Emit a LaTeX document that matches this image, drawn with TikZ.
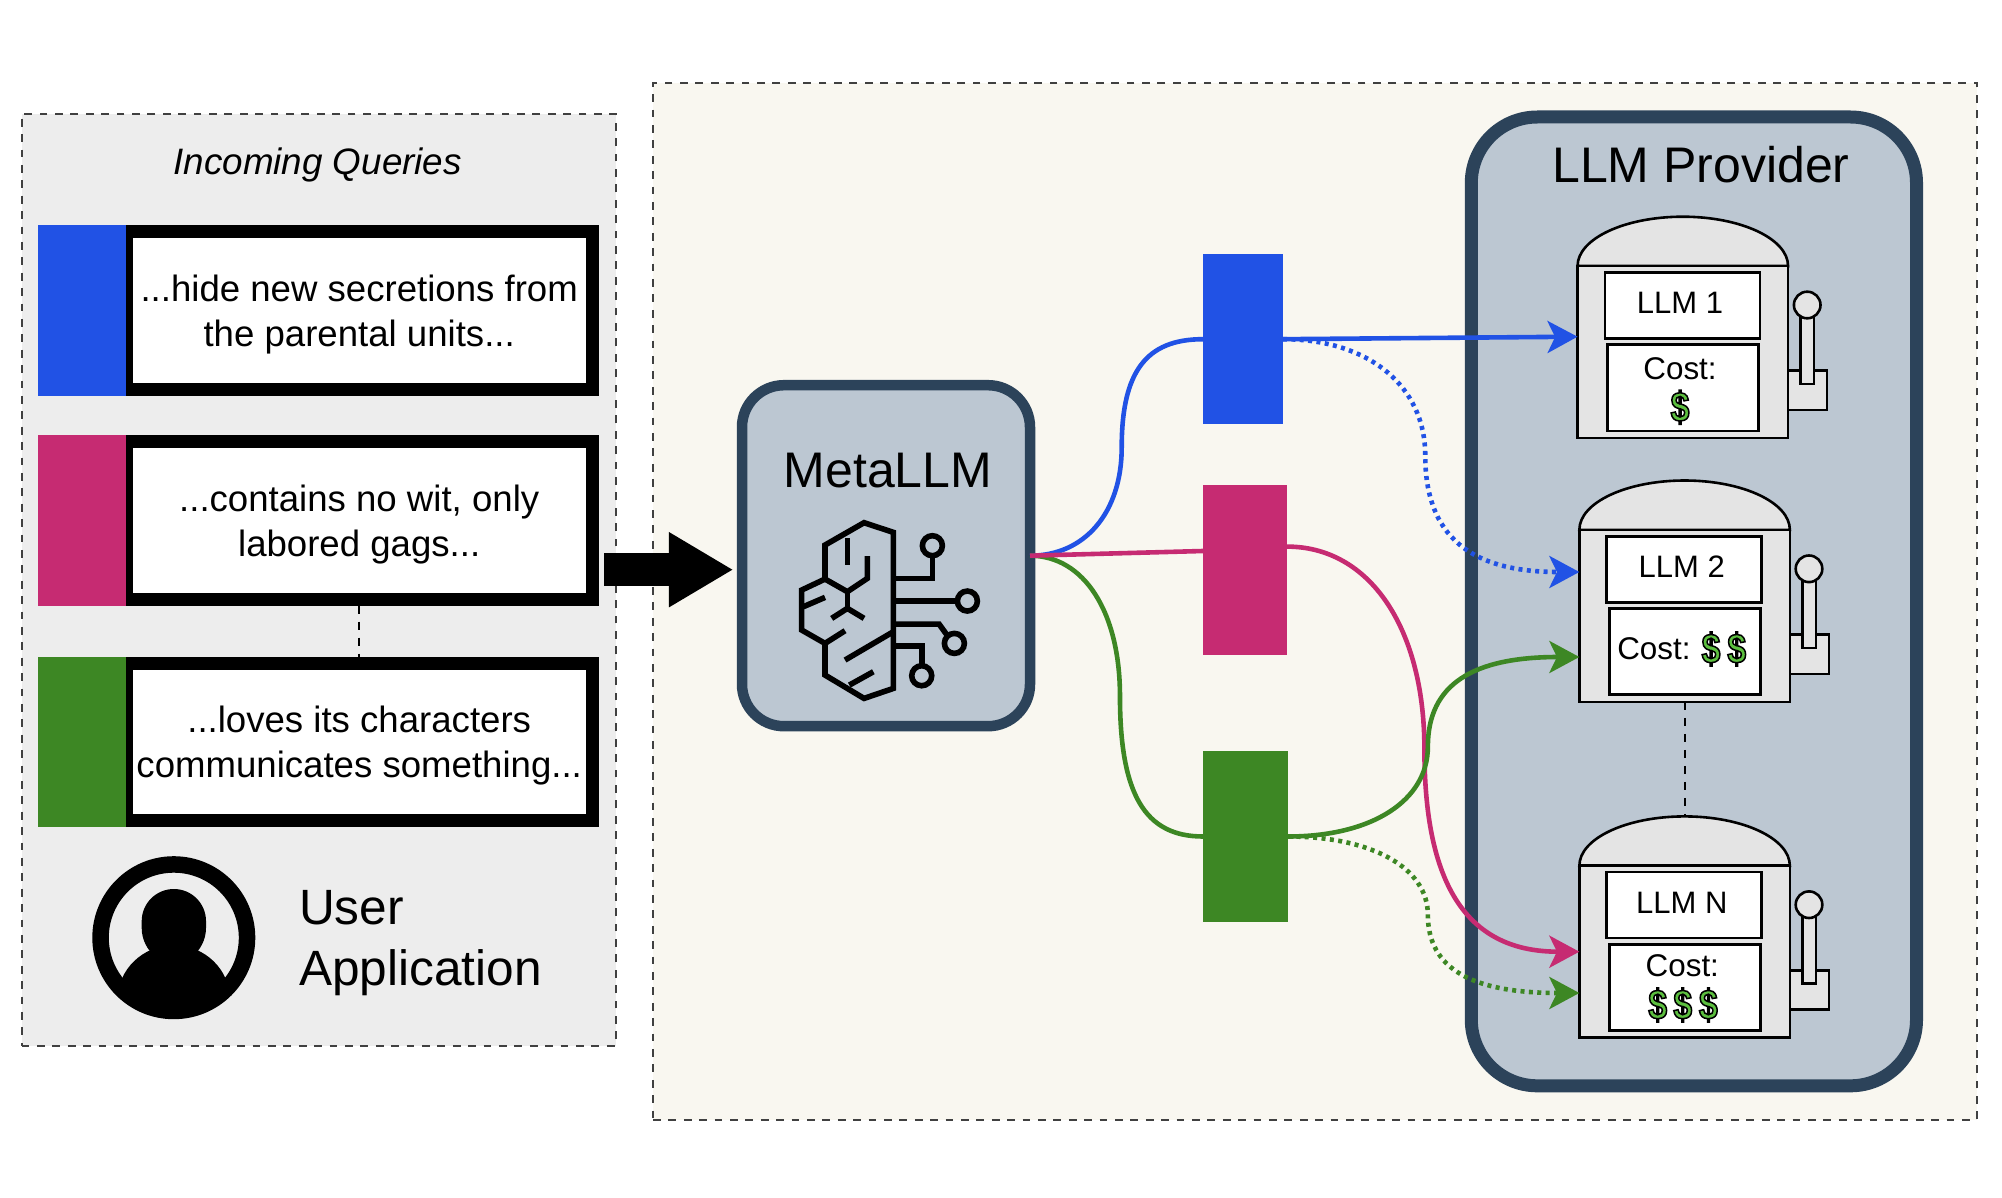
\documentclass[tikz,border=0pt]{standalone}
\usepackage{fontspec}
\setmainfont{Liberation Sans}
\newfontfamily\dollarfont[FakeBold=3.6,FakeStretch=0.8,UprightFont=* Bold]{Liberation Sans}
\usepackage{tikz}
\usetikzlibrary{arrows.meta, calc}
\definecolor{qblue}{HTML}{2152E5}
\definecolor{qpink}{HTML}{C62B72}
\definecolor{qgreen}{HTML}{3D8724}
\definecolor{slate}{HTML}{BCC7D2}
\definecolor{slateline}{HTML}{2C435A}
\definecolor{cream}{HTML}{F9F7F0}
\definecolor{greypanel}{HTML}{EDEDED}
\definecolor{greybody}{HTML}{E4E4E4}
\definecolor{dollargreen}{HTML}{5CBF3F}
\newcommand{\dollarmark}{{\color{dollargreen}\special{pdf:code 0 G}\fontsize{21}{21}\dollarfont\$}}
\newcommand{\qstrut}{\rule{0pt}{17.2pt}}
\tikzset{
panel/.style={rectangle, line width=1pt, draw=black!75, dash pattern=on 3.9pt off 3.8pt},
dashlink/.style={line width=1pt, draw=black, dash pattern=on 4pt off 4pt},
querybox/.style={rectangle, minimum width=233.2pt, minimum height=78.7pt, line width=6.5pt, draw=black, fill=white, align=center, font=\fontsize{18.3}{22.5}\selectfont},
querybar/.style={rectangle, minimum width=44pt, minimum height=85.2pt},
batchbox/.style={rectangle},
flow/.style={line width=2.3pt, -{Stealth[length=15pt, width=16pt, inset=3.8pt]}},
plainflow/.style={line width=2.3pt},
dottedflow/.style={flow, dash pattern=on 2pt off 2.2pt},
scurve/.style={to path={let \p1=(\tikztostart), \p2=(\tikztotarget), \n1={\x2-\x1}, \n2={\y2-\y1} in .. controls (\x1+0.6*#1*\n1, \y1) and (\x1+#1*\n1, \y1+0.2*\n2) .. (\x1+#1*\n1, \y1+0.5*\n2) .. controls (\x1+#1*\n1, \y1+0.85*\n2) and (\x1+#1*\n1+0.3*\n1-0.3*#1*\n1, \y2) .. (\tikztotarget)}},
slotline/.style={line width=1.3pt, draw=black, fill=greybody},
slotbox/.style={rectangle, line width=1.4pt, draw=black, fill=white},
costtext/.style={font=\fontsize{15.7}{18}\selectfont},
}
\begin{document}
\begin{tikzpicture}
[every node/.style={inner sep=0pt, outer sep=0pt}]
\useasboundingbox (0pt, 0pt) rectangle (1001pt, -599pt);
\node (userpanel) [panel, fill=greypanel, minimum width=296.95pt, minimum height=466.15pt] at (159.3pt, -289.9pt) {};
\node (servepanel) [panel, fill=cream, minimum width=661.8pt, minimum height=518.65pt] at (657.4pt, -300.7pt) {};
\node (provider) [rectangle, rounded corners=33pt, line width=6.5pt, draw=slateline, fill=slate, minimum width=222.6pt, minimum height=484.4pt] at (846.95pt, -300.7pt) {};
\node (providertitle) [anchor=base, font=\fontsize{25}{30}\selectfont] at (850.5pt, -91.35pt) {LLM Provider};
\node (incoming) [anchor=base, font=\fontsize{18.4}{24}\selectfont\itshape] at (158.85pt, -87.2pt) {Incoming Queries};
\node (qa) [querybox] at (179.6pt, -155.25pt) {\qstrut...hide new secretions from\\the parental units...};
\node (qb) [querybox] at (179.6pt, -260.25pt) {\qstrut...contains no wit, only\\labored gags...};
\node (qc) [querybox] at (179.6pt, -371pt) {\qstrut...loves its characters\\communicates something...};
\node (qabar) [querybar, fill=qblue] at (41.2pt, -155.25pt) {};
\node (qbbar) [querybar, fill=qpink] at (41.2pt, -260.25pt) {};
\node (qcbar) [querybar, fill=qgreen] at (41.2pt, -371pt) {};
\draw [dashlink, shorten <=3.25pt, shorten >=3.25pt] (qb.south) to (qc.north);
\node (usericon) [circle, minimum size=73.25pt, line width=8.25pt, draw=black] at (86.9pt, -468.85pt) {};
\begin{scope}
\clip (86.9pt, -468.85pt) circle (34pt);
\fill (86.9pt, -500pt) ellipse (28.15pt and 27.4pt);
\end{scope}
\fill (70.85pt, -460.58pt) arc [start angle=180, end angle=0, radius=16.08pt] -- (103pt, -464pt) .. controls (103pt, -470pt) and (100pt, -475pt) .. (96.5pt, -478pt) -- (77.3pt, -478pt) .. controls (73.8pt, -475pt) and (70.85pt, -470pt) .. (70.85pt, -464pt) -- cycle;
\node (userlabel) [anchor=west, align=left, font=\fontsize{24.8}{30.35}\selectfont] at (149.5pt, -471.6pt) {User\\Application};
\node (meta) [rectangle, rounded corners=21pt, line width=5.25pt, draw=slateline, fill=slate, minimum width=144pt, minimum height=170.5pt] at (443pt, -277.85pt) {};
\node (metalabel) [anchor=base, font=\fontsize{25}{30}\selectfont] at (444pt, -243.5pt) {MetaLLM};
\begin{scope}[shift={(360pt, -185pt)}, x=0.1667pt, y=-0.1667pt, line width=2.8pt, line join=miter]
\draw (432, 458) -- (520, 487) -- (520, 955) -- (432, 985) -- (315, 915) -- (315, 820) -- (245, 780) -- (245, 660) -- (315, 627) -- (315, 525) -- cycle;
\draw (382, 505) -- (382, 585);
\draw (315, 627) -- (382, 665) -- (442, 625) -- (442, 558);
\draw (382, 665) -- (382, 715);
\draw (335, 745) -- (382, 715) -- (432, 745);
\draw (250, 710) -- (315, 682);
\draw (315, 820) -- (375, 782);
\draw (375, 870) -- (520, 785);
\draw (388, 945) -- (460, 905);
\draw (520, 625) -- (637, 625) -- (637, 560);
\draw (637, 527) circle [radius=30];
\draw (520, 693) -- (712, 693);
\draw (742, 693) circle [radius=30];
\draw (520, 762) -- (657, 762) -- (683, 798);
\draw (703, 820) circle [radius=30];
\draw (520, 827) -- (605, 827) -- (605, 887);
\draw (605, 917) circle [radius=30];
\end{scope}
\coordinate (bigarrow) at (0pt, -284.85pt);
\draw [line width=16.35pt, -{Triangle[length=32.3pt, width=35.3pt]}, shorten <=5.8pt, shorten >=4.3pt] (qb.east |- bigarrow) to (meta.west |- bigarrow);
\node (rblue) [batchbox, fill=qblue, minimum width=40pt, minimum height=84.75pt] at (621.5pt, -169.6pt) {};
\node (rpink) [batchbox, fill=qpink, minimum width=42pt, minimum height=85pt] at (622.5pt, -285pt) {};
\node (rgreen) [batchbox, fill=qgreen, minimum width=42.5pt, minimum height=85.5pt] at (622.75pt, -418.25pt) {};
\foreach \name/\cx/\cy/\llmname in {llma/841.4/-176/LLM 1, llmb/842.3/-307.9/LLM 2, llmn/842.3/-475.85/LLM N} {
\begin{scope}[shift={(\cx pt, \cy pt)}]
\draw [slotline] (52.62pt, 43pt) arc [start angle=0, end angle=180, x radius=52.62pt, y radius=24.65pt] -- cycle;
\coordinate (\name top) at (0pt, 67.65pt);
\draw [slotline] (52.62pt, -9.35pt) rectangle (72.1pt, -29pt);
\draw [slotline] (58.9pt, 17.65pt) rectangle (65.6pt, -16pt);
\node (\name knob) [circle, minimum size=13.3pt, slotline] at (62.2pt, 23.5pt) {};
\node (\name) [rectangle, minimum width=105.25pt, minimum height=86pt, slotline] at (0pt, 0pt) {};
\node (\name box) [slotbox, minimum width=77.5pt, minimum height=33pt, text depth=2.1pt, font=\fontsize{15.5}{18}\selectfont] at (-0.15pt, 23.35pt) {\llmname\hspace*{2.5pt}};
\node (\name cost) [slotbox, minimum width=75.5pt, minimum height=43.15pt] at (0pt, -17.9pt) {};
\end{scope}
}
\node (costa) [anchor=base, costtext] at (840pt, -189.65pt) {Cost:};
\node (dollara) [] at (840pt, -203.65pt) {\dollarmark};
\node (costb) [anchor=base west, costtext] at (808.65pt, -329.5pt) {Cost:};
\node (dollarba) [] at (855.5pt, -324.5pt) {\dollarmark};
\node (dollarbb) [] at (868.35pt, -324.5pt) {\dollarmark};
\node (costn) [anchor=base, costtext] at (841.15pt, -488pt) {Cost:};
\node (dollarna) [] at (828.85pt, -502.5pt) {\dollarmark};
\node (dollarnb) [] at (841.35pt, -502.5pt) {\dollarmark};
\node (dollarnc) [] at (854.15pt, -502.5pt) {\dollarmark};
\draw [dashlink] (llmb.south) to (llmntop);
\coordinate (pinkin) at ([yshift=9.5pt]rpink.west);
\coordinate (pinkout) at ([yshift=11.7pt]rpink.east);
\coordinate (tipa) at ([yshift=7.65pt]llma.west);
\coordinate (tipbb) at ([yshift=21.9pt]llmb.west);
\coordinate (tipbg) at ([yshift=-20.6pt]llmb.west);
\coordinate (tipng) at ([yshift=-20.65pt]llmn.west);
\draw [plainflow, qblue, scurve=0.53] (meta.east) to (rblue.west);
\draw [plainflow, qgreen, scurve=0.52] (meta.east) to (rgreen.west);
\draw [plainflow, qpink] (meta.east) to (pinkin);
\draw [dottedflow, qblue, scurve=0.48] (rblue.east) to (tipbb);
\draw [dottedflow, qgreen, scurve=0.48] (rgreen.east) to (tipng);
\draw [flow, qblue] (rblue.east) to (tipa);
\draw [flow, qpink, scurve=0.47] (pinkout) to (llmn.west);
\draw [flow, qgreen, scurve=0.48] (rgreen.east) to (tipbg);
\end{tikzpicture}
\end{document}
